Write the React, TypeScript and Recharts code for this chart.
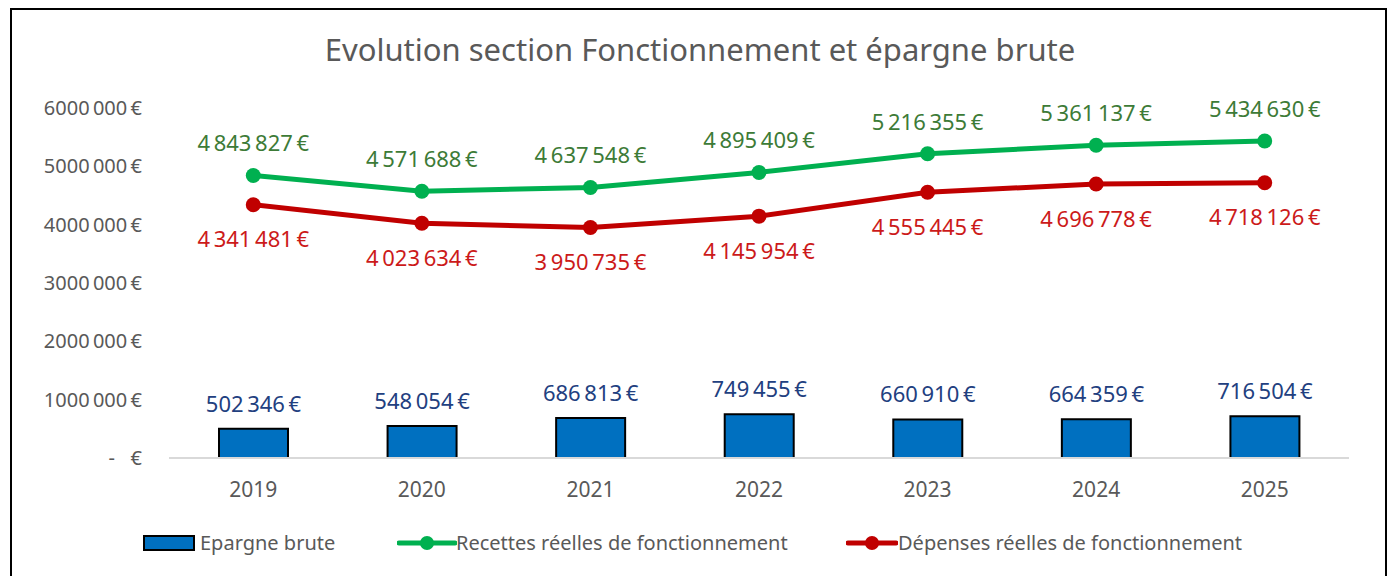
import React from 'react';
import {
    ComposedChart,
    Bar,
    Line,
    XAxis,
    YAxis,
    Legend,
    LabelList,
} from 'recharts';

const years = ['2019', '2020', '2021', '2022', '2023', '2024', '2025'];
const epargne = [502346, 548054, 686813, 749455, 660910, 664359, 716504];
const recettes = [4843827, 4571688, 4637548, 4895409, 5216355, 5361137, 5434630];
const depenses = [4341481, 4023634, 3950735, 4145954, 4555445, 4696778, 4718126];
const yTicks = [0, 1000000, 2000000, 3000000, 4000000, 5000000, 6000000];

const FONT = '"Noto Sans", sans-serif';
const GREY = '#595959';

const data = years.map((y, i) => ({
    year: y,
    epargne: epargne[i],
    recettes: recettes[i],
    depenses: depenses[i],
}));

const fmt = (v: number) =>
    String(v).replace(/\B(?=(\d{3})+(?!\d))/g, '\u202f') + '\u202f€';

const fmtTick = (v: number) =>
    v === 0 ? '-\u00a0\u00a0\u00a0€' : `${Math.round(v / 1000)}\u202f000\u202f€`;

const LegendContent = () => (
    <div style={{ fontFamily: FONT, fontSize: 20, color: GREY, height: 26 }}>
        <div style={{ position: 'absolute', left: 143, top: 5, width: 52, height: 16, background: '#0070C0', border: '2px solid #000', boxSizing: 'border-box' }} />
        <span style={{ position: 'absolute', left: 200, top: -1 }}>Epargne brute</span>
        <svg style={{ position: 'absolute', left: 397, top: 3 }} width={60} height={20}>
            <line x1={2} y1={10} x2={58} y2={10} stroke="#00B050" strokeWidth={5} strokeLinecap="round" />
            <circle cx={30} cy={10} r={7} fill="#00B050" />
        </svg>
        <span style={{ position: 'absolute', left: 456, top: -1 }}>Recettes réelles de fonctionnement</span>
        <svg style={{ position: 'absolute', left: 846, top: 3 }} width={52} height={20}>
            <line x1={2} y1={10} x2={50} y2={10} stroke="#C00000" strokeWidth={5} strokeLinecap="round" />
            <circle cx={26} cy={10} r={7} fill="#C00000" />
        </svg>
        <span style={{ position: 'absolute', left: 898, top: -1 }}>Dépenses réelles de fonctionnement</span>
    </div>
);

export default function App() {
    return (
        <div style={{ position: 'absolute', left: 0, top: 0, width: 1389, height: 576, overflow: 'hidden', background: '#fff' }}>
            <div style={{
                position: 'absolute', left: 10, top: 8, width: 1377, height: 600,
                border: '2.5px solid #000', boxSizing: 'border-box',
            }} />
            <div style={{
                position: 'absolute', left: 0, top: 28, width: 1400, textAlign: 'center',
                fontFamily: FONT, fontSize: 31, color: GREY,
            }}>
                Evolution section Fonctionnement et épargne brute
            </div>
            <div style={{ position: 'absolute', left: 0, top: 0 }}>
                <ComposedChart
                    width={1389}
                    height={576}
                    data={data}
                    margin={{ top: 108, right: 40, bottom: 88, left: 69 }}
                >
                    <XAxis
                        dataKey="year"
                        height={30}
                        axisLine={{ stroke: '#D9D9D9', strokeWidth: 2 }}
                        tickLine={false}
                        tickMargin={18}
                        tick={{ fill: GREY, fontSize: 21, fontFamily: FONT }}
                    />
                    <YAxis
                        width={100}
                        domain={[0, 6000000]}
                        ticks={yTicks}
                        axisLine={false}
                        tickLine={false}
                        tickMargin={21}
                        tickFormatter={fmtTick}
                        tick={{ fill: GREY, fontSize: 20, fontFamily: FONT }}
                    />
                    <Legend
                        verticalAlign="middle"
                        wrapperStyle={{ top: 530, left: 0, width: 1389 }}
                        content={<LegendContent />}
                    />
                    <Bar dataKey="epargne" fill="#0070C0" stroke="#000" strokeWidth={2} barSize={69} isAnimationActive={false}>
                        <LabelList dataKey="epargne" position="top" offset={17} formatter={(v: any) => fmt(v)}
                            fill="#22407F" fontSize={22} fontFamily={FONT} />
                    </Bar>
                    <Line dataKey="recettes" stroke="#00B050" strokeWidth={5} dot={{ r: 7.5, fill: '#00B050', stroke: 'none' }} isAnimationActive={false}>
                        <LabelList dataKey="recettes" position="top" offset={24} formatter={(v: any) => fmt(v)}
                            fill="#3D7B37" fontSize={22} fontFamily={FONT} />
                    </Line>
                    <Line dataKey="depenses" stroke="#C00000" strokeWidth={5} dot={{ r: 7.5, fill: '#C00000', stroke: 'none' }} isAnimationActive={false}>
                        <LabelList dataKey="depenses" position="bottom" offset={27} formatter={(v: any) => fmt(v)}
                            fill="#CC1A1A" fontSize={22} fontFamily={FONT} />
                    </Line>
                </ComposedChart>
            </div>
        </div>
    );
}
